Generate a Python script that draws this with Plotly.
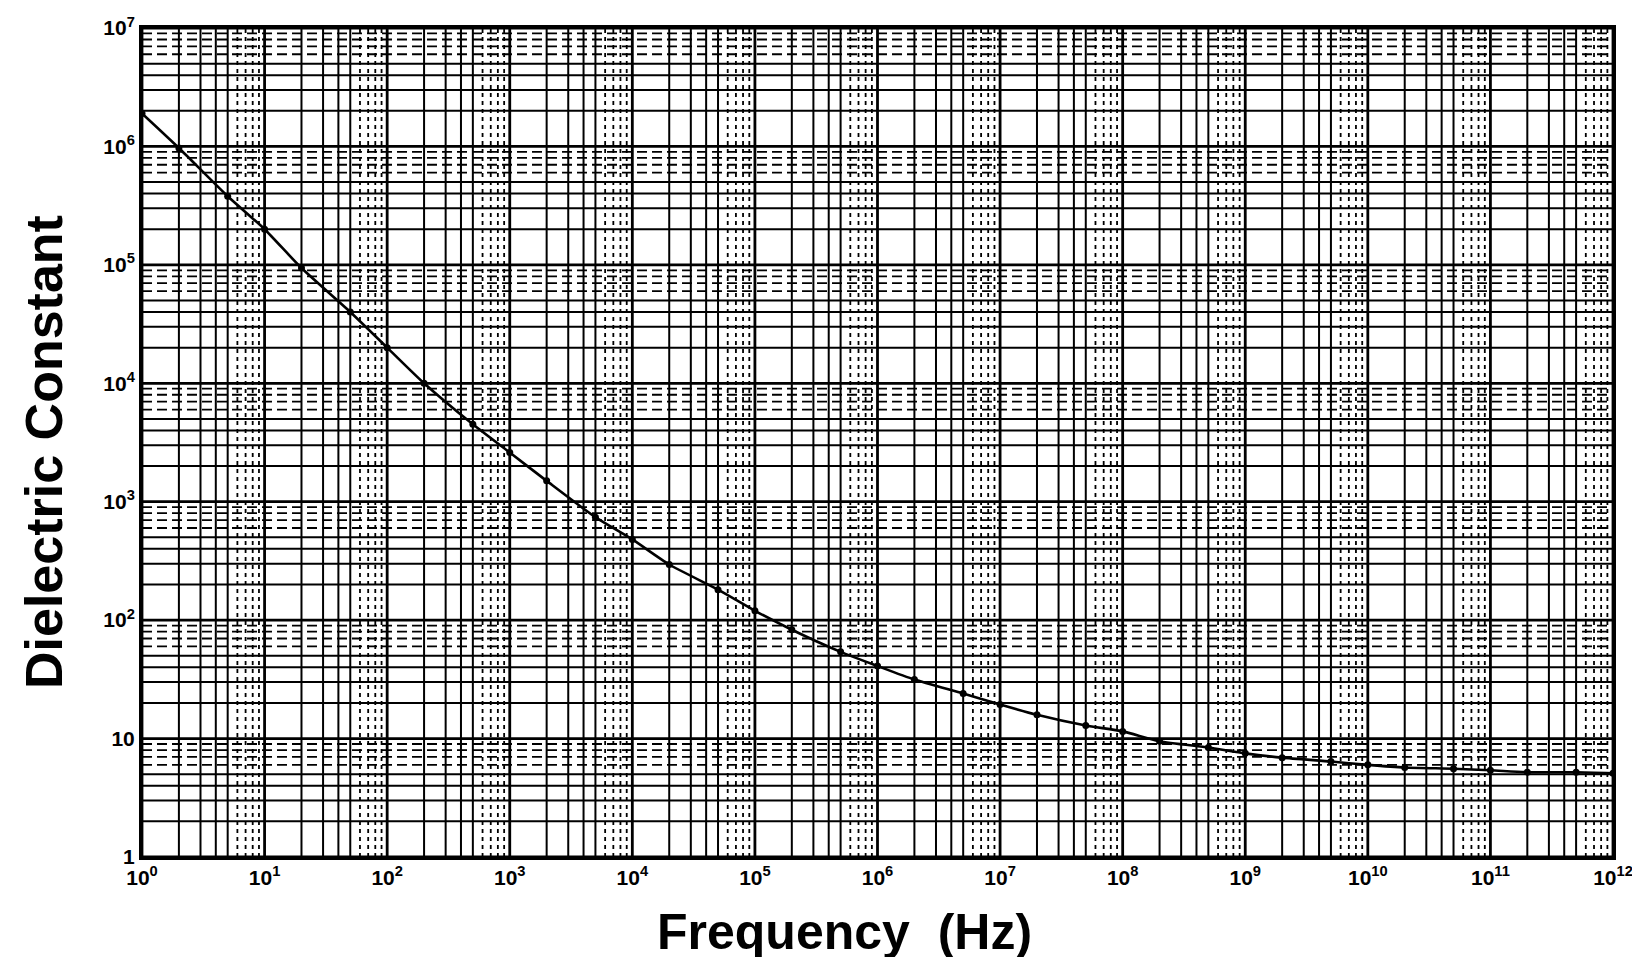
import numpy as np
import plotly.graph_objects as go

# frequency (Hz) and dielectric constant
freq = [1, 2, 5, 1e1, 2e1, 5e1, 1e2, 2e2, 5e2, 1e3, 2e3, 5e3, 1e4, 2e4, 5e4,
        1e5, 2e5, 5e5, 1e6, 2e6, 5e6, 1e7, 2e7, 5e7, 1e8, 2e8, 5e8, 1e9,
        2e9, 5e9, 1e10, 2e10, 5e10, 1e11, 2e11, 5e11, 1e12]
eps = [1.9e6, 9.7e5, 3.8e5, 2.0e5, 9.4e4, 4.0e4, 2.0e4, 1.0e4, 4.5e3, 2.6e3,
       1.5e3, 740, 480, 295, 181, 120, 83, 54, 41, 31.5, 24, 19.4, 15.9, 12.9,
       11.5, 9.5, 8.4, 7.5, 6.9, 6.4, 6.0, 5.7, 5.56, 5.4, 5.2, 5.2, 5.1]

x_tickvals = [10.0 ** k for k in range(0, 13)]
x_ticktext = [f"<b>10<sup>{k}</sup></b>" for k in range(0, 13)]
y_tickvals = [10.0 ** k for k in range(0, 8)]
y_ticktext = ["<b>1</b>", "<b>10</b>"] + [f"<b>10<sup>{k}</sup></b>" for k in range(2, 8)]

X_MIN, X_MAX = 1, 1e12
Y_MIN, Y_MAX = 1, 1e7


def grid_lines(vals, vertical):
    xs, ys = [], []
    for v in vals:
        if vertical:
            xs += [v, v, None]
            ys += [Y_MIN, Y_MAX, None]
        else:
            xs += [X_MIN, X_MAX, None]
            ys += [v, v, None]
    return xs, ys


def grid_trace(vals, vertical, width, dash):
    xs, ys = grid_lines(vals, vertical)
    return go.Scatter(x=xs, y=ys, mode='lines', hoverinfo='skip', showlegend=False,
                      line=dict(color='black', width=width, dash=dash))


fig = go.Figure()

# graph-paper grid: decades, 2..5 solid, 6..9 broken
x_dec = x_tickvals
y_dec = y_tickvals
x_mid = [m * d for d in x_dec[:-1] for m in (2, 3, 4, 5)]
y_mid = [m * d for d in y_dec[:-1] for m in (2, 3, 4, 5)]
x_hi = [m * d for d in x_dec[:-1] for m in (6, 7, 8, 9)]
y_hi = [m * d for d in y_dec[:-1] for m in (6, 7, 8, 9)]

fig.add_trace(grid_trace(x_hi, True, 1.8, '4px,4px'))
fig.add_trace(grid_trace(y_hi, False, 1.8, '10px,5px'))
fig.add_trace(grid_trace(x_mid, True, 2.0, 'solid'))
fig.add_trace(grid_trace(y_mid, False, 2.0, 'solid'))
fig.add_trace(grid_trace(x_dec, True, 2.8, 'solid'))
fig.add_trace(grid_trace(y_dec, False, 2.8, 'solid'))

fig.add_trace(go.Scatter(x=freq, y=eps, mode='lines+markers', showlegend=False,
                         line=dict(color='black', width=2.6, shape='spline', smoothing=0.6),
                         marker=dict(color='black', size=7)))

tick_font = dict(family='Liberation Sans, Arial', size=21, color='black')
fig.update_xaxes(type='log', range=[0, 12], tickvals=x_tickvals, ticktext=x_ticktext,
                 showgrid=False, zeroline=False, showline=True, linecolor='black',
                 linewidth=3, mirror=True, ticks='', tickfont=tick_font, automargin=False)
fig.update_yaxes(type='log', range=[0, 7], tickvals=y_tickvals, ticktext=y_ticktext,
                 showgrid=False, zeroline=False, showline=True, linecolor='black',
                 linewidth=3, mirror=True, ticks='', tickfont=tick_font, automargin=False)

fig.add_annotation(text='<b>Frequency  (Hz)</b>', xref='paper', yref='paper',
                   x=(836 - 134) / (1605 - 134), y=-(924 - 849) / (849 - 20),
                   showarrow=False, font=dict(family='Liberation Sans, Arial', size=50, color='black'),
                   xanchor='center', yanchor='middle')
fig.add_annotation(text='<b>Dielectric Constant</b>', xref='paper', yref='paper',
                   x=-(134 - 36) / (1605 - 134), y=(849 - 444) / (849 - 20),
                   textangle=-90, showarrow=False,
                   font=dict(family='Liberation Sans, Arial', size=52, color='black'),
                   xanchor='center', yanchor='middle')

fig.update_layout(width=1640, height=957, plot_bgcolor='white', paper_bgcolor='white',
                  margin=dict(l=134, r=35, t=20, b=108))

fig.write_html("out.html")
